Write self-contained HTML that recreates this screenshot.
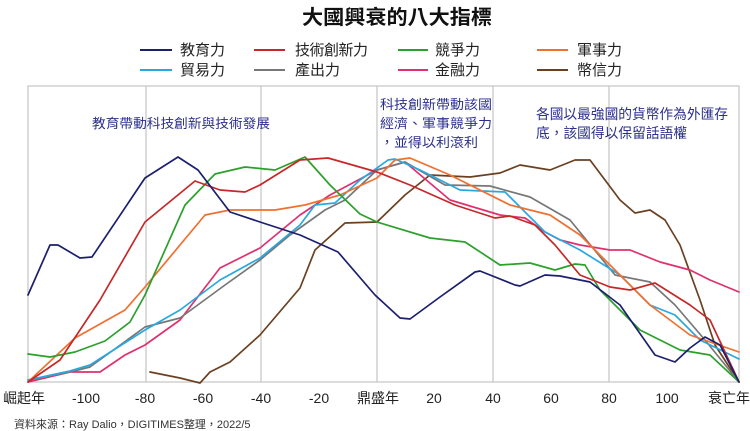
<!DOCTYPE html>
<html><head><meta charset="utf-8"><style>
body{margin:0;background:#fff;}
svg{display:block;font-family:"Liberation Sans","Noto Sans CJK TC",sans-serif;}
</style></head><body>
<svg width="750" height="431" viewBox="0 0 750 431" xmlns="http://www.w3.org/2000/svg">
<rect width="750" height="431" fill="#fff"/>
<text x="302" y="24" font-size="20" font-weight="bold" fill="#111" textLength="190" lengthAdjust="spacingAndGlyphs">大國興衰的八大指標</text>
<g font-size="15" fill="#222">
<line x1="140" y1="50" x2="172" y2="50" stroke="#1c1f6e" stroke-width="2"/><text x="180" y="55" textLength="45">教育力</text>
<line x1="254" y1="50" x2="285" y2="50" stroke="#c62828" stroke-width="2"/><text x="295" y="55" textLength="73">技術創新力</text>
<line x1="398" y1="50" x2="428" y2="50" stroke="#2ca02c" stroke-width="2"/><text x="435" y="55" textLength="45">競爭力</text>
<line x1="537" y1="50" x2="568" y2="50" stroke="#f07030" stroke-width="2"/><text x="577" y="55" textLength="45">軍事力</text>
<line x1="140" y1="70" x2="172" y2="70" stroke="#29a8e0" stroke-width="2"/><text x="180" y="75" textLength="45">貿易力</text>
<line x1="254" y1="70" x2="285" y2="70" stroke="#777" stroke-width="2"/><text x="295" y="75" textLength="45">產出力</text>
<line x1="398" y1="70" x2="428" y2="70" stroke="#e0306f" stroke-width="2"/><text x="435" y="75" textLength="45">金融力</text>
<line x1="537" y1="70" x2="568" y2="70" stroke="#6b4020" stroke-width="2"/><text x="577" y="75" textLength="45">幣信力</text>
</g>
<g stroke="#c8c8c8" stroke-width="1.3" fill="none">
<rect x="28" y="86" width="711" height="296"/>
<line x1="146" y1="86" x2="146" y2="382"/><line x1="261" y1="86" x2="261" y2="382"/>
<line x1="377" y1="86" x2="377" y2="382"/><line x1="493" y1="86" x2="493" y2="382"/>
<line x1="609" y1="86" x2="609" y2="382"/>
</g>
<g fill="#2b2f8c" font-size="13">
<text x="92" y="128" textLength="178" lengthAdjust="spacingAndGlyphs">教育帶動科技創新與技術發展</text>
<text x="380" y="109" textLength="112" lengthAdjust="spacingAndGlyphs">科技創新帶動該國</text>
<text x="380" y="128" textLength="112" lengthAdjust="spacingAndGlyphs">經濟、軍事競爭力</text>
<text x="380" y="147" textLength="98" lengthAdjust="spacingAndGlyphs">，並得以利滾利</text>
<text x="536" y="119" font-size="14" textLength="192" lengthAdjust="spacingAndGlyphs">各國以最強國的貨幣作為外匯存</text>
<text x="536" y="138" font-size="14" textLength="151" lengthAdjust="spacingAndGlyphs">底，該國得以保留話語權</text>
</g>
<g fill="none" stroke-width="1.7" stroke-linejoin="round" stroke-linecap="round">
<polyline stroke="#6b4020" points="150,372 180,378 200,383 210,372 230,362 260,335 300,288 315,250 345,223 377,222 405,195 430,175 470,177 500,173 520,165 550,170 575,160 590,160 620,200 635,213 650,210 665,220 680,245 700,300 715,345 739,382"/>
<polyline stroke="#e0306f" points="28,382 70,372 100,372 125,355 145,345 180,320 220,268 260,248 300,215 330,195 377,170 405,162 450,200 500,215 525,218 545,232 560,240 580,245 610,250 630,250 660,262 690,270 710,280 739,292"/>
<polyline stroke="#777" points="28,380 70,372 90,367 145,327 180,318 225,285 260,260 290,235 325,210 345,200 377,170 405,162 445,185 490,186 530,197 570,220 615,275 650,282 675,305 705,340 739,382"/>
<polyline stroke="#29a8e0" points="28,380 70,371 90,365 145,330 180,310 220,280 260,258 300,225 315,205 335,203 360,180 377,168 388,160 395,159 420,170 460,190 505,192 525,212 545,232 580,250 620,275 650,305 675,315 700,340 739,359"/>
<polyline stroke="#f07030" points="28,382 75,338 125,310 145,287 205,215 230,210 275,210 305,205 340,195 377,178 395,160 410,158 450,175 510,205 550,215 580,235 610,265 650,305 690,335 739,352"/>
<polyline stroke="#2ca02c" points="28,354 50,357 75,352 105,341 130,322 145,295 185,205 215,174 245,167 275,170 305,157 330,185 360,214 377,222 430,238 465,242 500,265 530,263 555,270 575,264 585,265 600,290 640,330 680,350 710,355 739,382"/>
<polyline stroke="#c62828" points="28,382 60,360 100,300 145,222 195,181 220,190 245,192 260,185 300,160 328,158 377,172 410,185 455,205 495,218 510,216 535,225 555,245 580,275 610,287 630,290 655,283 690,305 710,320 739,382"/>
<polyline stroke="#1c1f6e" points="28,295 50,245 58,245 80,258 92,257 145,178 178,157 198,170 230,212 260,222 300,235 338,252 375,295 400,318 410,319 440,297 475,272 480,271 515,285 520,286 545,275 560,276 590,282 620,305 655,355 675,362 690,348 705,337 720,345 739,382"/>
</g>
<g font-size="14" fill="#222" text-anchor="middle">
<text x="24" y="403">崛起年</text><text x="86" y="403">-100</text><text x="145" y="403">-80</text>
<text x="203" y="403">-60</text><text x="261" y="403">-40</text><text x="319" y="403">-20</text>
<text x="378" y="403">鼎盛年</text><text x="434" y="403">20</text><text x="493" y="403">40</text>
<text x="551" y="403">60</text><text x="609" y="403">80</text><text x="667" y="403">100</text>
<text x="729" y="403">衰亡年</text>
</g>
<text x="14" y="428" font-size="11" fill="#333">資料來源：Ray Dalio，DIGITIMES整理，2022/5</text>
</svg>
</body></html>
